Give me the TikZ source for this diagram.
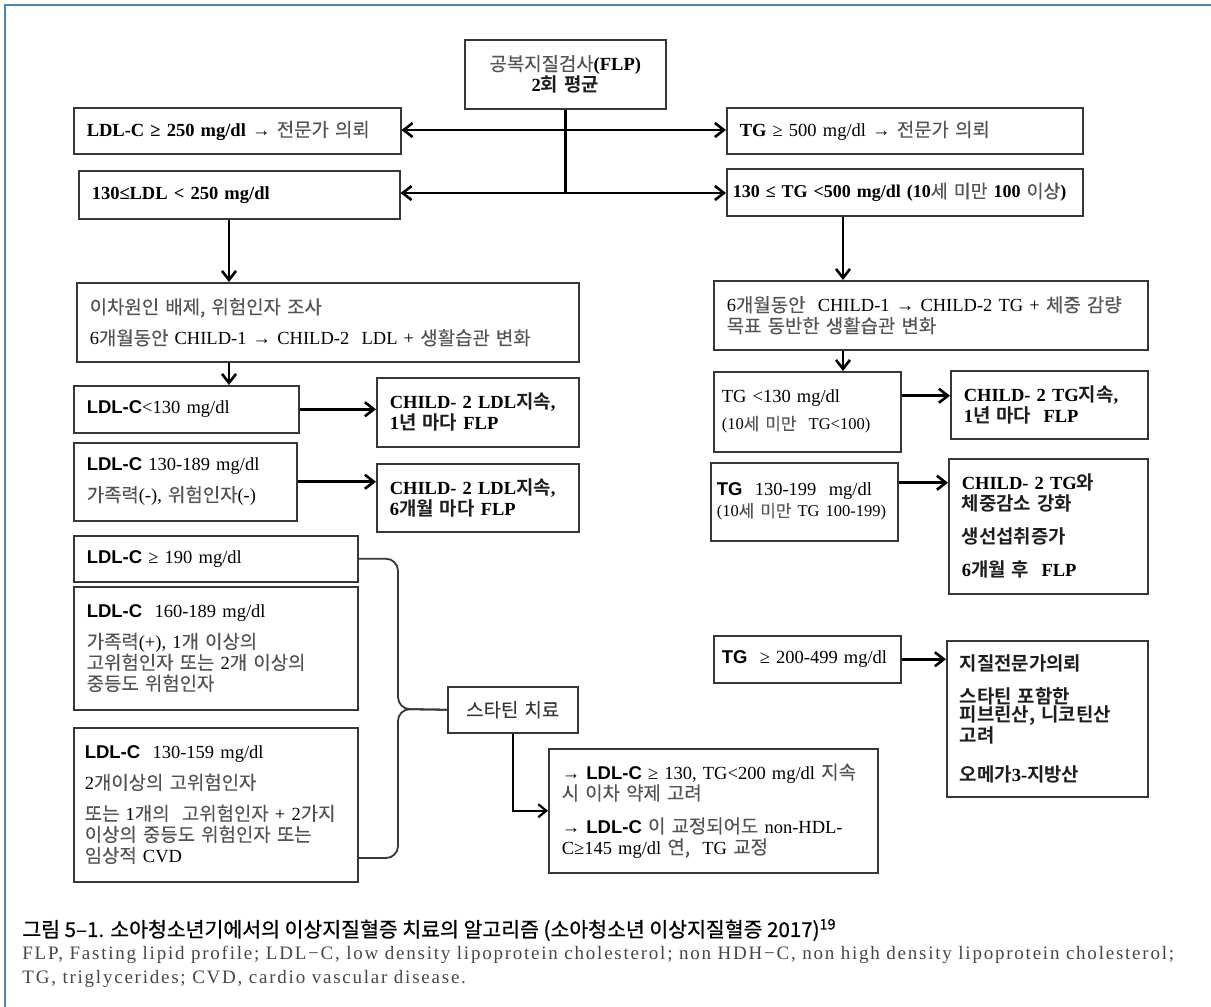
\documentclass[tikz,border=0pt]{standalone}
\usepackage{fontspec}
\usepackage{tikz}
\usetikzlibrary{arrows.meta}

\setmainfont{Liberation Serif}
\newfontfamily\kr{Noto Sans CJK KR}[Scale=1.02,BoldFont={Noto Sans CJK KR Bold},UprightFeatures={FakeBold=0.3}]
\newfontfamily\krcap{Noto Sans CJK KR}[FakeBold=0.8]
\newfontfamily\gs{Liberation Sans}
\newfontfamily\notefont{Liberation Serif}[LetterSpace=9.3]

\definecolor{framecol}{RGB}{74,134,166}
\definecolor{boxcol}{RGB}{55,55,55}
\definecolor{korgray}{RGB}{84,84,84}
\definecolor{kordark}{RGB}{30,30,30}
\definecolor{statcol}{RGB}{55,55,55}
\definecolor{notecol}{RGB}{70,70,70}

\newcommand{\korcol}{korgray}
\newcommand{\kor}[1]{{\kr\color{\korcol}#1}}
\newcommand{\sfb}[1]{{\gs\bfseries #1}}
\newcommand{\boxfont}{\fontsize{18.5}{21}\selectfont}

\tikzset{
  box/.style={draw=boxcol, line width=1.5pt, anchor=north west, align=left,
    inner xsep=13pt, inner ysep=2pt, font=\boxfont},
  boldbox/.style={box, font=\boxfont\bfseries\def\korcol{kordark}},
  arr/.style={line width=2.6pt, -{Straight Barb[length=9pt,width=14pt]}},
  arrthin/.style={line width=2.2pt, -{Straight Barb[length=8pt,width=13pt]}},
  brace/.style={draw=boxcol, line width=1.8pt, rounded corners=12pt},
}

\begin{document}
\begin{tikzpicture}[x=1pt, y=-1pt]
    \useasboundingbox (0,0) rectangle (1211,1007);
    \draw [framecol, line width=1.2pt] (5,1007) -- (5,5) -- (1211,5);

    \begin{scope}[thick]

    % top of the chart
    \node [box, align=center, minimum width=201pt, minimum height=69pt, text width=175pt] (flp) at (464,39)
        {\kor{공복지질검사}\textbf{(FLP)}\\ {\bfseries\def\korcol{kordark}2\kor{회 평균}}};
    \node [box, minimum width=327pt, minimum height=46pt, text width=301pt] (ldl250) at (73,107)
        {\textbf{LDL-C ≥ 250 mg/dl} → \kor{전문가 의뢰}};
    \node [box, minimum width=356pt, minimum height=46pt, text width=330pt] (tg500) at (726,107)
        {\textbf{TG} ≥ 500 mg/dl → \kor{전문가 의뢰}};
    \node [box, minimum width=321pt, minimum height=48pt, text width=295pt] (ldl130) at (78,170)
        {\textbf{130≤LDL < 250 mg/dl}};
    \node [box, minimum width=356pt, minimum height=47pt, text width=344pt, inner xsep=6pt,
        font=\fontsize{18}{21}\selectfont] (tg130) at (726,168)
        {\textbf{130 ≤ TG <500 mg/dl (10}\kor{세 미만} \textbf{100} \kor{이상}\textbf{)}};

    % LDL side
    \node [box, minimum width=502pt, minimum height=79pt, text width=476pt] (secA) at (76,282)
        {\kor{이차원인 배제, 위험인자 조사}\\[10pt]
         6\kor{개월동안} CHILD-1 → CHILD-2\ \ LDL + \kor{생활습관 변화}};
    \node [box, minimum width=225pt, minimum height=47pt, text width=199pt] (ldlLow) at (73,385)
        {\sfb{LDL-C}<130 mg/dl};
    \node [boldbox, minimum width=202pt, minimum height=69pt, text width=176pt] (keepA) at (376,377)
        {CHILD- 2 LDL\kor{지속},\\ 1\kor{년 마다} FLP};
    \node [box, minimum width=223pt, minimum height=78pt, text width=197pt] (ldlMid) at (73,442)
        {\sfb{LDL-C} 130-189 mg/dl\\[10pt] \kor{가족력}(-), \kor{위험인자}(-)};
    \node [boldbox, minimum width=202pt, minimum height=68pt, text width=176pt] (keepB) at (376,463)
        {CHILD- 2 LDL\kor{지속},\\ 6\kor{개월 마다} FLP};

    \node [box, minimum width=284pt, minimum height=46pt, text width=258pt] (ldl190) at (73,535)
        {\sfb{LDL-C} ≥ 190 mg/dl};
    \node [box, minimum width=284pt, minimum height=123pt, text width=258pt] (ldl160) at (73,586)
        {\sfb{LDL-C}\ \ 160-189 mg/dl\\[10pt]
         \kor{가족력}(+), 1\kor{개 이상의}\\ \kor{고위험인자 또는} 2\kor{개 이상의}\\ \kor{중등도 위험인자}};
    \node [box, minimum width=284pt, minimum height=154pt, text width=262pt, inner xsep=11pt] (ldl130b) at (73,727)
        {\sfb{LDL-C}\ \ 130-159 mg/dl\\[10pt]
         2\kor{개이상의 고위험인자}\\[10pt]
         \kor{또는} 1\kor{개의\ \ 고위험인자} + 2\kor{가지}\\
         \kor{이상의 중등도 위험인자 또는}\\ \kor{임상적} CVD};
    \node [box, align=center, minimum width=130pt, minimum height=46pt, text width=110pt,
        inner xsep=10pt, font=\boxfont\def\korcol{statcol}] (statin) at (447,686)
        {\kor{스타틴 치료}};
    \node [box, minimum width=329pt, minimum height=124pt, text width=303pt] (result) at (548,748)
        {→ \sfb{LDL-C} ≥ 130, TG<200 mg/dl \kor{지속}\\ \kor{시 이차 약제 고려}\\[12pt]
         → \sfb{LDL-C} \kor{이 교정되어도} non-HDL-\\ C≥145 mg/dl \kor{연,}\ \ TG \kor{교정}};

    % TG side
    \node [box, minimum width=434pt, minimum height=69pt, text width=408pt] (tgLife) at (713,280)
        {6\kor{개월동안}\ \ CHILD-1 → CHILD-2 TG + \kor{체중 감량}\\ \kor{목표 동반한 생활습관 변화}};
    \node [box, minimum width=187pt, minimum height=80pt, text width=171pt, inner xsep=8pt] (tgLow) at (713,371)
        {TG <130 mg/dl\\[6pt] {\fontsize{16.5}{20}\selectfont(10\kor{세 미만}\ \ TG<100)}};
    \node [boldbox, minimum width=197pt, minimum height=68pt, text width=171pt] (keepC) at (950,370)
        {CHILD- 2 TG\kor{지속},\\ 1\kor{년 마다}\ \ FLP};
    \node [box, minimum width=187pt, minimum height=78pt, text width=175pt, inner xsep=6pt] (tgMid) at (710,462)
        {\sfb{TG}\ \ 130-199\ \ mg/dl\\ {\fontsize{16.5}{20}\selectfont(10\kor{세 미만} TG 100-199)}\\[14pt]};
    \node [boldbox, minimum width=199pt, minimum height=135pt, text width=173pt] (keepD) at (948,458)
        {CHILD- 2 TG\kor{와}\\ \kor{체중감소 강화}\\[12pt] \kor{생선섭취증가}\\[12pt] 6\kor{개월 후}\ \ FLP};
    \node [box, minimum width=187pt, minimum height=47pt, text width=171pt, inner xsep=8pt] (tgHigh) at (713,635)
        {\sfb{TG}\ \ ≥ 200-499 mg/dl};
    \node [boldbox, minimum width=201pt, minimum height=156pt, text width=175pt,
        font=\fontsize{18.5}{18.5}\selectfont\bfseries\def\korcol{kordark}] (refer) at (946,640)
        {\kor{지질전문가의뢰}\\[14pt] \kor{스타틴 포함한}\\ \kor{피브린산, 니코틴산}\\ \kor{고려}\\[20pt] \kor{오메가}3-\kor{지방산}};

    % connectors
    \coordinate (j1) at (565,130);
    \coordinate (j2) at (565,193);
    \coordinate (colL) at (229,0);
    \coordinate (colR) at (843,0);
    \coordinate (bMid) at (398,709);
    \coordinate (bEnd) at (357,858);

    \draw [line width=2.6pt] (flp.south) -- (flp.south |- j2);
    \foreach \j/\l/\r in {j1/ldl250/tg500, j2/ldl130/tg130}{%
        \draw [arr] (\j) -- (\j -| \l.east);
        \draw [arr] (\j) -- (\j -| \r.west);}

    \draw [arr] (ldl130.south -| colL) -- (secA.north -| colL);
    \draw [arr] (secA.south -| colL) -- (ldlLow.north -| colL);
    \draw [arr] (tg130.south -| colR) -- (tgLife.north -| colR);
    \draw [arr] (tgLife.south -| colR) -- (tgLow.north -| colR);

    \draw [arr] (ldlLow.east) -- (ldlLow.east -| keepA.west);
    \draw [arr] (ldlMid.east) -- (ldlMid.east -| keepB.west);
    \draw [arr] ([yshift=16pt]tgLow.east) -- ([yshift=16pt]tgLow.east -| keepC.west);
    \draw [arr] ([yshift=19pt]tgMid.east) -- ([yshift=19pt]tgMid.east -| keepD.west);
    \draw [arr] (tgHigh.east) -- (tgHigh.east -| refer.west);

    \draw [brace] (ldl190.east) -| (bMid) -- (statin.west);
    \draw [brace] (bEnd) -| (bMid) -- (statin.west);
    \draw [arrthin] (statin.south) |- (result.west);

    % caption
    \node [anchor=west, inner sep=0pt, font=\krcap\fontsize{20.5}{23}\selectfont] (cap) at (22,930)
        {그림 5–1. 소아청소년기에서의 이상지질혈증 치료의 알고리즘 (소아청소년 이상지질혈증 2017)\textsuperscript{19}};
    \node [anchor=west, inner sep=0pt, text=notecol, font=\notefont\fontsize{19}{22}\selectfont] (note1) at (22,955)
        {FLP, Fasting lipid profile; LDL−C, low density lipoprotein cholesterol; non HDH−C, non high density lipoprotein cholesterol;};
    \node [anchor=west, inner sep=0pt, text=notecol, font=\notefont\fontsize{19}{22}\selectfont] (note2) at (22,979)
        {TG, triglycerides; CVD, cardio vascular disease.};
    \end{scope}
\end{tikzpicture}
\end{document}
